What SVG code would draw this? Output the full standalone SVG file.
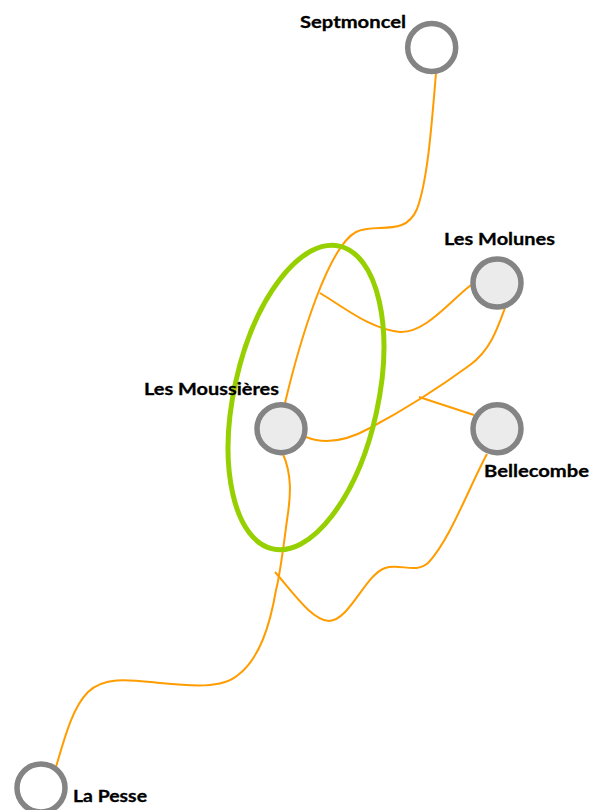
<svg xmlns="http://www.w3.org/2000/svg" width="598" height="810" viewBox="0 0 598 810">
<style>
.c{fill:none;stroke:#ff9c00;stroke-width:2}
.n{stroke:#848484;stroke-width:5.5}
.e{fill:#ebebeb}
.w{fill:#fff}
text{font-family:Lato,"Open Sans","Liberation Sans",sans-serif;font-weight:700;font-size:17.5px;fill:#000;stroke:#000;stroke-width:.3}
</style>
<rect width="598" height="810" fill="#fff"/>
<g id="connectors">
<path class="c" d="M436 73C432 120 428 180 417 209C405 238 375 222 356 232C328 247 300 340 285 403"/>
<path class="c" d="M320 293C345 308 370 329 400 332C425 333 448 303 471 285"/>
<path class="c" d="M505 308C497 330 490 350 470 365C440 387 400 412 370 428C350 439 328 446 306 437"/>
<path class="c" d="M419 397L474 415"/>
<path class="c" d="M283 454C292 475 291 495 287 520C283 550 280 575 276 590C270 625 260 658 238 675C222 689 190 686 160 683C130 680 105 676 88 692C72 708 64 740 56 767"/>
<path class="c" d="M275 572C295 595 312 620 329 621C350 620 365 575 385 568C400 563 415 574 428 563C450 540 470 485 487 454"/>
</g>
<ellipse id="cluster" cx="306" cy="397.5" rx="72" ry="155" transform="rotate(12.4 306 397.5)" fill="none" stroke="#97d000" stroke-width="5"/>
<g id="septmoncel"><circle class="n w" cx="431.7" cy="47.5" r="24"/><text x="300" y="28" textLength="106" lengthAdjust="spacingAndGlyphs">Septmoncel</text></g>
<g id="les-molunes"><circle class="n e" cx="497" cy="283" r="24"/><text x="444" y="245" textLength="111" lengthAdjust="spacingAndGlyphs">Les Molunes</text></g>
<g id="les-moussieres"><circle class="n e" cx="281" cy="428.7" r="24"/><text x="144" y="395" textLength="135" lengthAdjust="spacingAndGlyphs">Les Moussières</text></g>
<g id="bellecombe"><circle class="n e" cx="497" cy="428.7" r="24"/><text x="484" y="477" textLength="105" lengthAdjust="spacingAndGlyphs">Bellecombe</text></g>
<g id="la-pesse"><circle class="n w" cx="41" cy="788" r="24"/><text x="73" y="802" textLength="74" lengthAdjust="spacingAndGlyphs">La Pesse</text></g>
</svg>
